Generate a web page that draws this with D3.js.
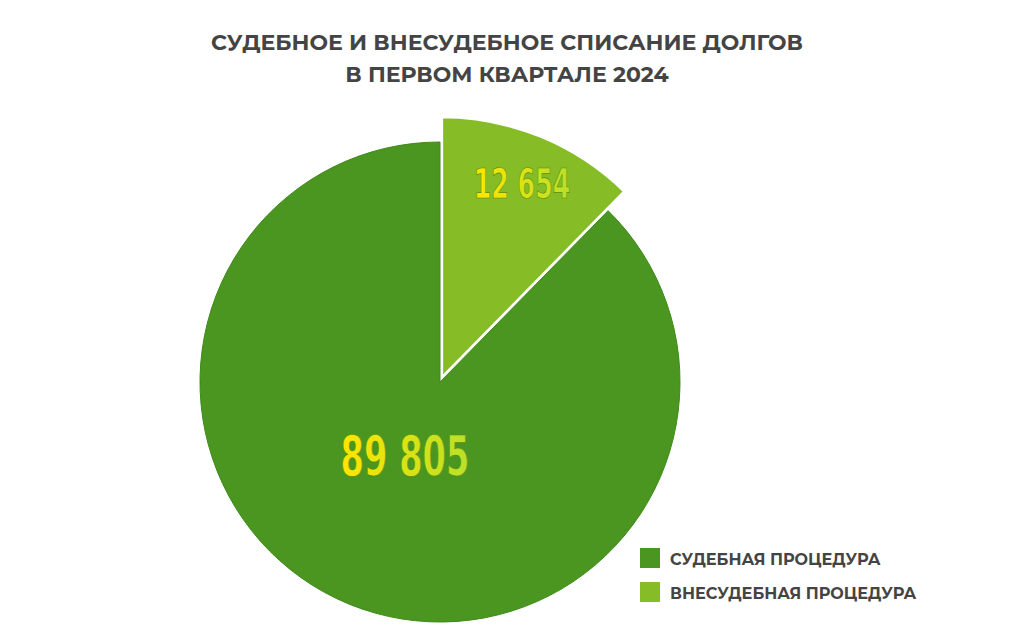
<!DOCTYPE html><html><head><meta charset="utf-8"><script src="https://cdn.jsdelivr.net/npm/d3@7"></script>
<style>body{margin:0;background:#fff}</style></head><body><svg width="1021" height="643"></svg>
<script>
const categories=["СУДЕБНАЯ ПРОЦЕДУРА","ВНЕСУДЕБНАЯ ПРОЦЕДУРА"];
const values=[89805,12654];
const labels=["89 805","12 654"];
const colors=["#4a9620","#86bc25"];
const svg=d3.select("svg");
const defs=svg.append("defs");
const g0=defs.append("linearGradient").attr("id","tg").attr("x1","0").attr("x2","1");
g0.append("stop").attr("offset","0%").attr("stop-color","#ffe600");
g0.append("stop").attr("offset","100%").attr("stop-color","#b8e02a");
svg.append("text").attr("x",507).attr("y",50).attr("text-anchor","middle").attr("font-family","Montserrat, 'Open Sans', sans-serif").attr("font-weight",700).attr("font-size",22).attr("fill","#444").text("СУДЕБНОЕ И ВНЕСУДЕБНОЕ СПИСАНИЕ ДОЛГОВ");
svg.append("text").attr("x",507).attr("y",82).attr("text-anchor","middle").attr("font-family","Montserrat, 'Open Sans', sans-serif").attr("font-weight",700).attr("font-size",22).attr("fill","#444").text("В ПЕРВОМ КВАРТАЛЕ 2024");
// order: small slice first from top clockwise
const pie=d3.pie().sort(null).value(d=>d.v);
const arcsData=pie([{v:values[1],i:1},{v:values[0],i:0}]);
const cx=440,cy=382;
const g=svg.append("g").attr("transform",`translate(${cx},${cy})`);
arcsData.forEach(a=>{
  const i=a.data.i;
  const r=i===1?263:240;
  const arc=d3.arc().innerRadius(0).outerRadius(r);
  const mid=(a.startAngle+a.endAngle)/2;
  const off=i===1?3:0;
  const gg=g.append("g").attr("transform",`translate(${Math.sin(mid)*off},${-Math.cos(mid)*off})`);
  gg.append("path").attr("d",arc(a)).attr("fill",colors[i]).attr("stroke",i===1?"#fff":"#3e8a18").attr("stroke-width",i===1?4:1);
});
const lab=[{x:405,y:475,s:48,t:labels[0]},{x:522,y:198,s:36,t:labels[1]}];
lab.forEach(l=>svg.append("text").attr("x",l.x).attr("y",l.y).attr("text-anchor","middle").attr("font-family","'DejaVu Sans Condensed', 'Liberation Sans Narrow', sans-serif").attr("font-weight",700).attr("font-size",l.s).attr("transform",`translate(${l.x},${l.y}) scale(0.78,1.15) translate(${-l.x},${-l.y})`).attr("fill","url(#tg)").attr("stroke","#5a8a10").attr("stroke-width",0.6).text(l.t));
categories.forEach((c,i)=>{
  svg.append("rect").attr("x",640).attr("y",548+i*34).attr("width",20).attr("height",20).attr("fill",colors[i]);
  svg.append("text").attr("x",670).attr("y",565+i*34).attr("font-family","Montserrat, 'Open Sans', sans-serif").attr("font-weight",700).attr("font-size",16).attr("fill","#444").text(c);
});
</script></body></html>
